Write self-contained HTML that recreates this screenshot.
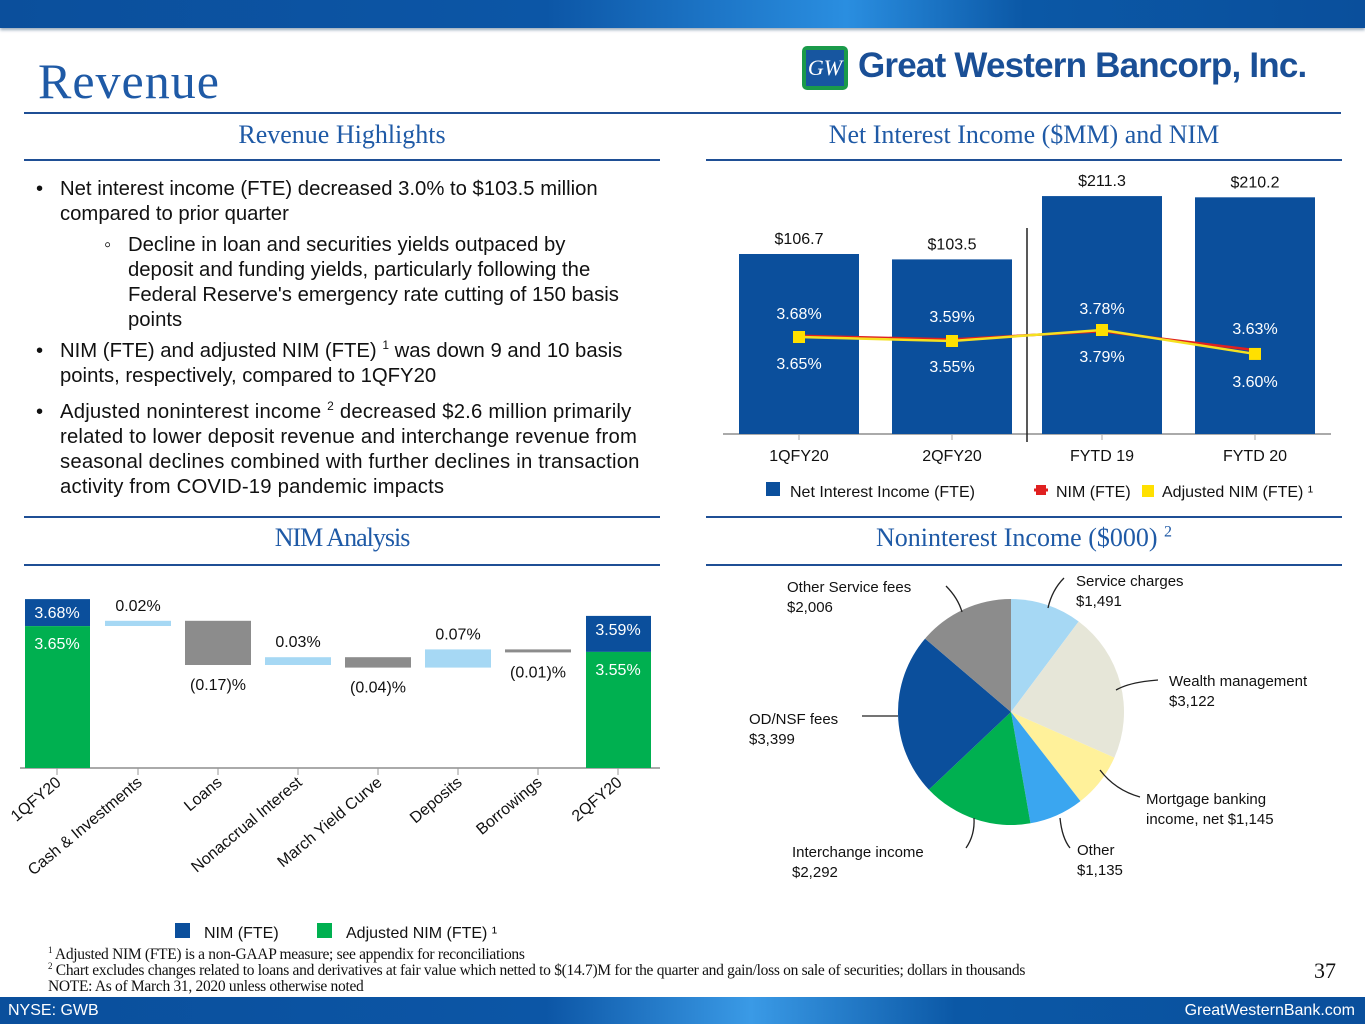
<!DOCTYPE html>
<html><head><meta charset="utf-8">
<style>
body{margin:0;width:1365px;height:1024px;position:relative;background:#fff;overflow:hidden;font-family:"Liberation Sans",sans-serif;}
.abs{position:absolute;}
.hd{position:absolute;font-family:"Liberation Serif",serif;font-size:26px;color:#1f5aa6;text-align:center;}
.ln{position:absolute;height:2px;background:#1f4f95;}
.txt{position:absolute;font-family:"Liberation Sans",sans-serif;font-size:20.3px;color:#111;letter-spacing:0;line-height:25px;}
sup{line-height:0;}
svg text{font-family:"Liberation Sans",sans-serif;}
</style></head><body>
<div class="abs" style="left:0;top:0;width:1365px;height:28px;background:linear-gradient(90deg,#0b4f9c 0%,#0c56a6 40%,#2a8ee0 62%,#0b58a6 75%,#0a4f9c 100%);box-shadow:0 2px 3px #9ab"></div>
<div class="abs" style="left:38px;top:52px;font-family:'Liberation Serif',serif;font-size:50px;letter-spacing:1px;color:#1f5aa6;">Revenue</div>
<div class="abs" style="left:800px;top:44px;width:540px;height:52px;">
 <div style="position:absolute;left:2px;top:2px;width:46px;height:44px;background:#1a9a4a;border-radius:5px;"><div style="position:absolute;left:4px;top:4px;width:38px;height:36px;background:#1756a0;color:#fff;font-family:'Liberation Serif',serif;font-style:italic;font-size:22px;text-align:center;line-height:36px;">GW</div></div>
 <div style="position:absolute;left:58px;top:2px;font-family:'Liberation Sans',sans-serif;font-weight:bold;font-size:35px;color:#1a4f96;letter-spacing:-0.8px;">Great Western Bancorp, Inc.</div>
</div>
<div class="ln" style="left:24px;top:112px;width:1317px;"></div>

<div class="hd" style="left:24px;top:120px;width:636px;">Revenue Highlights</div>
<div class="hd" style="left:706px;top:120px;width:636px;">Net Interest Income ($MM) and NIM</div>
<div class="ln" style="left:24px;top:159px;width:636px;"></div>
<div class="ln" style="left:706px;top:159px;width:636px;"></div>

<div class="txt" style="left:36px;top:177px;width:620px;">
<div style="position:absolute;left:0;top:0">•</div><div style="position:absolute;left:24px;top:0;width:600px">Net interest income (FTE) decreased 3.0% to $103.5 million<br>compared to prior quarter</div>
<div style="position:absolute;left:68px;top:56px">◦</div><div style="position:absolute;left:92px;top:56px;width:540px">Decline in loan and securities yields outpaced by<br>deposit and funding yields, particularly following the<br>Federal Reserve's emergency rate cutting of 150 basis<br>points</div>
<div style="position:absolute;left:0;top:162px">•</div><div style="position:absolute;left:24px;top:162px;width:610px">NIM (FTE) and adjusted NIM (FTE) <sup style="font-size:12px">1</sup> was down 9 and 10 basis<br>points, respectively, compared to 1QFY20</div>
<div style="position:absolute;left:0;top:223px">•</div><div style="position:absolute;left:24px;top:223px;width:640px;letter-spacing:0.2px">Adjusted noninterest income <sup style="font-size:12px">2</sup> decreased $2.6 million primarily<br>related to lower deposit revenue and interchange revenue from<br>seasonal declines combined with further declines in transaction<br>activity from COVID-19 pandemic impacts</div>
</div>

<svg class="abs" style="left:0;top:0" width="1365" height="1024" id="nii"></svg>

<div class="ln" style="left:24px;top:516px;width:636px;"></div>
<div class="ln" style="left:706px;top:516px;width:636px;"></div>
<div class="hd" style="left:24px;top:523px;width:636px;letter-spacing:-1px">NIM Analysis</div>
<div class="hd" style="left:706px;top:523px;width:636px;">Noninterest Income ($000) <sup style="font-size:16px">2</sup></div>
<div class="ln" style="left:24px;top:564px;width:636px;"></div>
<div class="ln" style="left:706px;top:564px;width:636px;"></div>

<div class="abs" style="left:48px;top:947px;font-family:'Liberation Serif',serif;font-size:15.5px;line-height:16px;color:#111;letter-spacing:-0.3px;">
<div><sup style="font-size:9px">1</sup> Adjusted NIM (FTE) is a non-GAAP measure; see appendix for reconciliations</div>
<div><sup style="font-size:9px">2</sup> Chart excludes changes related to loans and derivatives at fair value which netted to $(14.7)M for the quarter and gain/loss on sale of securities; dollars in thousands</div>
<div>NOTE: As of March 31, 2020 unless otherwise noted</div></div>
<div class="abs" style="left:1314px;top:958px;font-family:'Liberation Serif',serif;font-size:22px;color:#111;">37</div>
<div class="abs" style="left:0;top:997px;width:1365px;height:27px;background:linear-gradient(90deg,#0a4f9c 0%,#0c56a6 40%,#3a9ae6 55%,#0b58a6 70%,#0a4f9c 100%);">
<span style="position:absolute;left:8px;top:5px;color:#fff;font-size:16px;">NYSE: GWB</span>
<span style="position:absolute;right:10px;top:5px;color:#fff;font-size:16px;">GreatWesternBank.com</span></div>

<script>
const NS='http://www.w3.org/2000/svg';
const svg=document.getElementById('nii');
function mk(tag,attrs,txt){const e=document.createElementNS(NS,tag);for(const k in attrs)e.setAttribute(k,attrs[k]);if(txt!==undefined)e.textContent=txt;svg.appendChild(e);return e;}

// ---- NII chart data ----
const niiCats=['1QFY20','2QFY20','FYTD 19','FYTD 20'];
const niiVals=[106.7,103.5,211.3,210.2];
const nimVals=[3.68,3.59,3.78,3.63];
const adjNimVals=[3.65,3.55,3.79,3.60];
const niiX=[799,952,1102,1255];
const niiBase=434;
// quarterly and year-to-date panels use separate scales
const yN=(v,i)=>niiBase-v*(i<2?1.687:1.126);
const yNim=(v,i)=>i<2?337-(v-3.65)*40:330-(v-3.79)*126;
mk('line',{x1:723,y1:niiBase,x2:1331,y2:niiBase,stroke:'#aaa','stroke-width':2});
niiCats.forEach((c,i)=>{
 const top=yN(niiVals[i],i);
 const r=mk('rect',{x:niiX[i]-60,y:top,width:120,height:niiBase-top,fill:'#0b4f9c'});
 
 
 mk('line',{x1:niiX[i],y1:niiBase,x2:niiX[i],y2:niiBase+6,stroke:'#aaa'});
 const t=mk('text',{x:niiX[i],y:461,'text-anchor':'middle','font-size':16,fill:'#111'},c);
 
 
 mk('text',{x:niiX[i],y:top-10,'text-anchor':'middle','font-size':16,fill:'#111'},'$'+niiVals[i].toFixed(1));
});
mk('line',{x1:1027,y1:228,x2:1027,y2:442,stroke:'#222','stroke-width':1.5});
let pr='',pa='';
nimVals.forEach((v,i)=>{pr+=(i?'L':'M')+niiX[i]+','+yNim(v,i);pa+=(i?'L':'M')+niiX[i]+','+yNim(adjNimVals[i],i);});
mk('path',{d:pr,stroke:'#e02020',fill:'none','stroke-width':2.5});
mk('path',{d:pa,stroke:'#f5e020',fill:'none','stroke-width':2.5});
const nimLblY=[319,322,314,334], adjLblY=[369,372,362,387];
adjNimVals.forEach((v,i)=>{
 const m=mk('rect',{x:niiX[i]-6,y:yNim(v,i)-6,width:12,height:12,fill:'#ffe000'});
 
 
 mk('text',{x:niiX[i],y:nimLblY[i],'text-anchor':'middle','font-size':16,fill:'#fff'},nimVals[i].toFixed(2)+'%');
 mk('text',{x:niiX[i],y:adjLblY[i],'text-anchor':'middle','font-size':16,fill:'#fff'},v.toFixed(2)+'%');
});
// legend
mk('rect',{x:766,y:482,width:14,height:14,fill:'#0b4f9c'});
mk('text',{x:790,y:497,'font-size':16,fill:'#111'},'Net Interest Income (FTE)');
mk('line',{x1:1034,y1:490,x2:1048,y2:490,stroke:'#e02020','stroke-width':3});
mk('rect',{x:1036,y:485,width:10,height:10,fill:'#e02020'});
mk('text',{x:1056,y:497,'font-size':16,fill:'#111'},'NIM (FTE)');
mk('rect',{x:1142,y:485,width:12,height:12,fill:'#ffe000'});
mk('text',{x:1162,y:497,'font-size':16,fill:'#111'},'Adjusted NIM (FTE) ¹');

// ---- Waterfall data ----
const wfCats=['1QFY20','Cash & Investments','Loans','Nonaccrual Interest','March Yield Curve','Deposits','Borrowings','2QFY20'];
const wfNim=[3.68,null,null,null,null,null,null,3.59];
const wfAdj=[3.65,null,null,null,null,null,null,3.55];
const wfDelta=[null,0.02,-0.17,0.03,-0.04,0.07,-0.01,null];
const wfLabels=['','0.02%','(0.17)%','0.03%','(0.04)%','0.07%','(0.01)%',''];
const wfX=[57,138,218,298,378,458,538,618];
const wfBase=768;
const gH=v=>(v-3.10)*258;
const stepK=260;
mk('line',{x1:20,y1:wfBase,x2:660,y2:wfBase,stroke:'#aaa','stroke-width':2});
let level=626;
wfCats.forEach((c,i)=>{
 mk('line',{x1:wfX[i],y1:wfBase,x2:wfX[i],y2:wfBase+7,stroke:'#999'});
 const t=mk('text',{x:wfX[i]+5,y:wfBase+16,'text-anchor':'end','font-size':16,fill:'#111',transform:`rotate(-40 ${wfX[i]+5} ${wfBase+16})`},c);
 
 
 if(wfNim[i]!==null){
  const gt=wfBase-gH(wfAdj[i]);
  const bt=gt-(wfNim[i]-wfAdj[i])*900;
  const b=mk('rect',{x:wfX[i]-32,y:bt,width:65,height:gt-bt,fill:'#0b4f9c'});
  
  
  const g=mk('rect',{x:wfX[i]-32,y:gt,width:65,height:wfBase-gt,fill:'#00b050'});
  
  
  mk('text',{x:wfX[i],y:bt+19,'text-anchor':'middle','font-size':16,fill:'#fff'},wfNim[i].toFixed(2)+'%');
  mk('text',{x:wfX[i],y:gt+23,'text-anchor':'middle','font-size':16,fill:'#fff'},wfAdj[i].toFixed(2)+'%');
 } else {
  const d=wfDelta[i], nl=level-d*stepK;
  const top=Math.min(level,nl), h=Math.max(Math.abs(level-nl),3);
  const r=mk('rect',{x:wfX[i]-33,y:top,width:66,height:h,fill:d>0?'#a6d8f4':'#8c8c8c'});
  
  
  if(d>0) mk('text',{x:wfX[i],y:top-10,'text-anchor':'middle','font-size':16,fill:'#111'},wfLabels[i]);
  else mk('text',{x:wfX[i],y:top+h+25,'text-anchor':'middle','font-size':16,fill:'#111'},wfLabels[i]);
  level=nl;
 }
});
mk('rect',{x:175,y:923,width:15,height:15,fill:'#0b4f9c'});
mk('text',{x:204,y:938,'font-size':16,fill:'#111'},'NIM (FTE)');
mk('rect',{x:317,y:923,width:15,height:15,fill:'#00b050'});
mk('text',{x:346,y:938,'font-size':16,fill:'#111'},'Adjusted NIM (FTE) ¹');

// ---- Pie data ----
const pieCats=['Service charges','Wealth management','Mortgage banking income, net','Other','Interchange income','OD/NSF fees','Other Service fees'];
const pieVals=[1491,3122,1145,1135,2292,3399,2006];
const pieColors=['#a6d8f4','#e6e6d8','#fff19a','#3aa6f0','#00b050','#0b4f9c','#8c8c8c'];
const cx=1011,cy=712,R=113;
const tot=pieVals.reduce((a,b)=>a+b,0);
let ang=-Math.PI/2;
pieVals.forEach((v,i)=>{
 const a2=ang+v/tot*2*Math.PI;
 const x1=cx+R*Math.cos(ang),y1=cy+R*Math.sin(ang),x2=cx+R*Math.cos(a2),y2=cy+R*Math.sin(a2);
 const p=mk('path',{d:`M${cx},${cy}L${x1},${y1}A${R},${R} 0 ${a2-ang>Math.PI?1:0} 1 ${x2},${y2}Z`,fill:pieColors[i]});
 
 
 ang=a2;
});
const pl=[[1076,586,'Service charges','$1,491'],[1169,686,'Wealth management','$3,122'],[1146,804,'Mortgage banking','income, net $1,145'],[1077,855,'Other','$1,135'],[792,857,'Interchange income','$2,292'],[749,724,'OD/NSF fees','$3,399'],[787,592,'Other Service fees','$2,006']];
pl.forEach(l=>{mk('text',{x:l[0],y:l[1],'font-size':15,fill:'#111'},l[2]);mk('text',{x:l[0],y:l[1]+20,'font-size':15,fill:'#111'},l[3]);});
const leaders=['M1064,578 Q1052,590 1048,608','M1158,680 Q1130,682 1116,690','M1140,797 Q1115,790 1100,770','M1070,848 Q1062,838 1060,818','M966,848 Q975,835 974,818','M862,716 L898,716','M946,586 Q958,598 962,612'];
leaders.forEach(d=>mk('path',{d:d,stroke:'#222',fill:'none','stroke-width':1.3}));
</script>
</body></html>
